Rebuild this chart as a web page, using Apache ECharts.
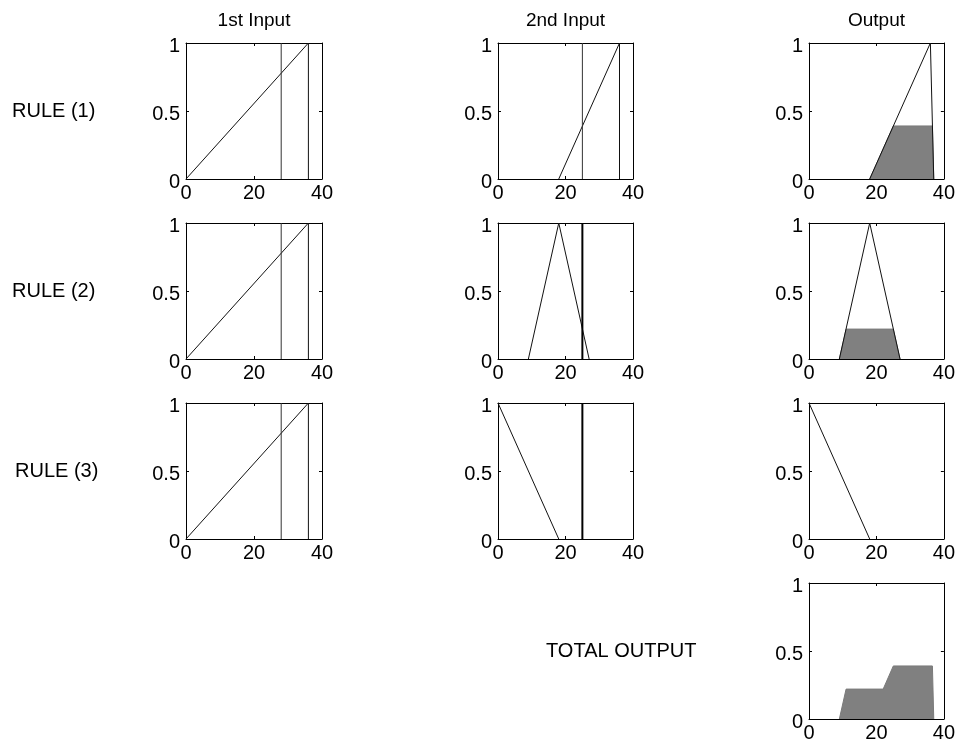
<!DOCTYPE html>
<html>
<head>
<meta charset="utf-8">
<script src="https://cdn.jsdelivr.net/npm/echarts@6/dist/echarts.min.js"></script>
<style>
  html, body { margin: 0; padding: 0; background: #fff; }
  #chart { width: 958px; height: 743px; }
</style>
</head>
<body>
<div id="chart"></div>
<script>
// Fuzzy rule viewer: three rules, two inputs, one output, plus aggregated result.
const xTicks = [0, 20, 40];
const yTicks = [0, 0.5, 1];

const columnTitles = ['1st Input', '2nd Input', 'Output'];
const ruleLabels = ['RULE (1)', 'RULE (2)', 'RULE (3)'];
const totalLabel = 'TOTAL OUTPUT';

// crisp input values
const input1 = 28;
const input2 = 25;

// membership functions (x, degree)
const in1High = [[0, 0], [36, 1], [36, 0]];
const in2High = [[18, 0], [36, 1], [36, 0]];
const in2Mid = [[9, 0], [18, 1], [27, 0]];
const in2Low = [[0, 1], [18, 0]];
const outHigh = [[18, 0], [36, 1], [37, 0]];
const outMid = [[9, 0], [18, 1], [27, 0]];
const outLow = [[0, 1], [18, 0]];

// implication results (clipped output sets) and their aggregate
const clipRule1 = [[18, 0], [25, 0.39], [36.6, 0.39], [37, 0]];
const clipRule2 = [[9, 0], [11, 0.22], [25, 0.22], [27, 0]];
const totalOutput = [[9, 0], [11, 0.22], [22, 0.22], [25, 0.39], [36.6, 0.39], [37, 0]];

const FONT = 'Liberation Sans';
const FS = 20;
const FS_TITLE = 19;

const colLeft = [186, 498, 809];
const colWidth = [136, 135, 135];
const rowTop = [43, 223, 403, 583];
const rowHeight = 136;

const panels = [];
const rules = [
  { in2: in2High, out: outHigh, clip: clipRule1, w2: 1 },
  { in2: in2Mid, out: outMid, clip: clipRule2, w2: 2 },
  { in2: in2Low, out: outLow, clip: null, w2: 2 }
];
rules.forEach((r, i) => {
  panels.push({ row: i, col: 0, lines: [in1High], verticals: [{ x: input1, w: 1 }], area: null });
  panels.push({ row: i, col: 1, lines: [r.in2], verticals: [{ x: input2, w: r.w2 }], area: null });
  panels.push({ row: i, col: 2, lines: [r.out], verticals: [], area: r.clip });
});
panels.push({ row: 3, col: 2, lines: [], verticals: [], area: totalOutput });

const grid = [], xAxis = [], yAxis = [], series = [];
const labelStyle = { color: '#000', fontSize: FS, fontFamily: FONT };
const lineCol = '#111';

panels.forEach((p, i) => {
  grid.push({ left: colLeft[p.col], top: rowTop[p.row], width: colWidth[p.col], height: rowHeight });
  const axLine = { show: true, onZero: false, lineStyle: { color: '#000', width: 1 } };
  const tick = { show: true, inside: true, length: 3, lineStyle: { color: '#000' } };
  xAxis.push({
    type: 'value', gridIndex: i, min: xTicks[0], max: xTicks[xTicks.length - 1], interval: xTicks[1] - xTicks[0],
    position: 'bottom', axisLine: axLine, axisTick: tick, splitLine: { show: false },
    axisLabel: Object.assign({ margin: 4, showMinLabel: true, showMaxLabel: true, hideOverlap: false }, labelStyle)
  });
  xAxis.push({
    type: 'value', gridIndex: i, min: xTicks[0], max: xTicks[xTicks.length - 1], interval: xTicks[1] - xTicks[0],
    position: 'top', axisLine: axLine, axisTick: tick, splitLine: { show: false }, axisLabel: { show: false }
  });
  yAxis.push({
    type: 'value', gridIndex: i, min: yTicks[0], max: yTicks[yTicks.length - 1], interval: yTicks[1] - yTicks[0],
    position: 'left', axisLine: axLine, axisTick: tick, splitLine: { show: false },
    axisLabel: Object.assign({
      margin: 6, showMinLabel: true, showMaxLabel: true, hideOverlap: false,
      formatter: v => '{v|' + v + '}',
      rich: { v: { fontSize: FS, fontFamily: FONT, color: '#000', padding: [6, 0, 0, 0] } }
    }, labelStyle)
  });
  yAxis.push({
    type: 'value', gridIndex: i, min: yTicks[0], max: yTicks[yTicks.length - 1], interval: yTicks[1] - yTicks[0],
    position: 'right', axisLine: axLine, axisTick: tick, splitLine: { show: false }, axisLabel: { show: false }
  });
  const xi = 2 * i, yi = 2 * i;
  if (p.area) {
    series.push({
      type: 'line', xAxisIndex: xi, yAxisIndex: yi, data: p.area, symbol: 'none', silent: true,
      lineStyle: { color: '#7a7a7a', width: 1 }, areaStyle: { color: '#808080', opacity: 1, origin: 'start' }
    });
  }
  p.lines.forEach(d => {
    series.push({
      type: 'line', xAxisIndex: xi, yAxisIndex: yi, data: d, symbol: 'none', silent: true,
      lineStyle: { color: lineCol, width: 1 }
    });
  });
  p.verticals.forEach(v => {
    series.push({
      type: 'line', xAxisIndex: xi, yAxisIndex: yi, data: [[v.x, 0], [v.x, 1]], symbol: 'none', silent: true,
      lineStyle: { color: v.w > 1 ? '#000' : '#333', width: v.w }
    });
  });
});

const textFont = FS + 'px "' + FONT + '"';
const titleFont = FS_TITLE + 'px "' + FONT + '"';
const graphic = [];
columnTitles.forEach((t, c) => {
  graphic.push({ type: 'text', style: { text: t, x: colLeft[c] + colWidth[c] / 2, y: 21, font: titleFont, fill: '#000', align: 'center', verticalAlign: 'middle' } });
});
const ruleLeft = [12, 12, 15];
ruleLabels.forEach((t, r) => {
  graphic.push({ type: 'text', style: { text: t, x: ruleLeft[r], y: rowTop[r] + rowHeight / 2, font: textFont, fill: '#000', align: 'left', verticalAlign: 'middle' } });
});
graphic.push({ type: 'text', style: { text: totalLabel, x: 546, y: rowTop[3] + rowHeight / 2, font: textFont, fill: '#000', align: 'left', verticalAlign: 'middle' } });

const chart = echarts.init(document.getElementById('chart'), null, { renderer: 'canvas' });
chart.setOption({
  animation: false,
  backgroundColor: '#fff',
  grid, xAxis, yAxis, series, graphic
});
</script>
</body>
</html>
